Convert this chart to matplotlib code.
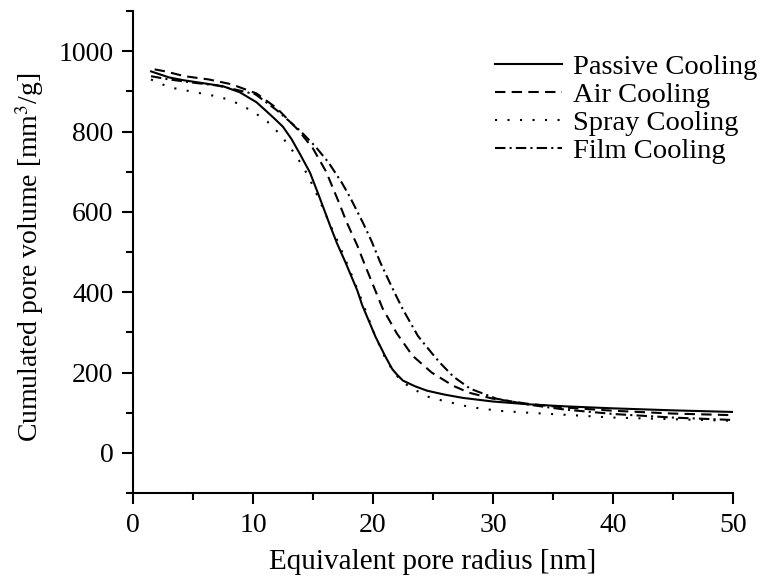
import matplotlib
matplotlib.use('Agg')
import matplotlib.pyplot as plt
import numpy as np

plt.rcParams['font.family'] = ['Liberation Serif', 'DejaVu Serif']
plt.rcParams['mathtext.fontset'] = 'stix'

# Passive cooling (solid)
passive_x = [1.5, 3, 4.2, 6, 7.5, 8.9, 10.3, 11.7, 12.5, 13.2, 13.9, 14.75, 15.5, 16.4, 17, 17.7,
             18.7, 19.1, 19.75, 20.2, 21, 21.6, 22, 22.5, 23.5, 24.5, 26, 27.5, 30, 33, 36, 40, 45, 50]
passive_y = [950, 935, 928, 920, 913, 898, 873, 835, 812, 782, 745, 698, 640, 568, 522, 475,
             404, 368, 322, 290, 242, 209, 195, 180, 166, 155, 145, 137, 128, 121, 116, 111, 106, 102]

# Air cooling (dashed)
air_x = [1.8, 2.7, 4.3, 6.3, 8.2, 10.3, 12, 13.8, 15, 16.1, 17.1, 17.8, 18.7, 19.3, 20.2,
         20.8, 22, 23.3, 24.9, 26.7, 28, 30, 33, 36, 40, 45, 50]
air_y = [955, 950, 938, 930, 918, 895, 858, 803, 758, 700, 628, 575, 516, 470, 404,
         360, 297, 242, 200, 167, 150, 135, 122, 113, 105, 98, 94]

# Spray cooling (dotted)
spray_x = [1.5, 2, 3.1, 4.5, 6.6, 7.7, 8.75, 10, 11.2, 12.2, 13.1, 13.8, 14.6, 15.5, 16.4,
           17.1, 18, 19, 19.75, 20.2, 21, 21.8, 22.5, 23.3, 24.6, 25.7, 27, 28.1, 29.2, 30.4,
           33, 36, 40, 45, 50]
spray_y = [930, 923, 910, 902, 890, 882, 870, 850, 825, 795, 761, 730, 690, 632, 570,
           524, 460, 385, 325, 290, 238, 198, 176, 160, 140, 131, 122, 114, 110, 105,
           100, 95, 88, 84, 80]

# Film cooling (dash-dot)
film_x = [1.5, 3, 5, 7, 8.5, 10.2, 12, 13.9, 15.2, 16.3, 17.4, 18.1, 19.2, 19.9, 20.6,
          21.4, 22, 22.5, 23.75, 25, 25.6, 26.7, 28.1, 30.3, 33, 36, 40, 45, 50]
film_y = [938, 930, 922, 915, 905, 893, 853, 803, 763, 723, 673, 636, 571, 526, 475,
          424, 387, 357, 291, 245, 224, 190, 160, 135, 120, 108, 97, 88, 82]

fig = plt.figure(figsize=(7.65, 5.87), dpi=100)
ax = fig.add_axes([0.1739, 0.160, 0.958 - 0.1739, 0.981 - 0.160])

lw = 1.5
ax.plot(passive_x, passive_y, color='black', lw=lw, linestyle='-', label='Passive Cooling')
ax.plot(air_x, air_y, color='black', lw=lw, linestyle=(0, (5, 3)), label='Air Cooling')
ax.plot(spray_x, spray_y, color='black', lw=lw, linestyle=(0, (1, 5)), label='Spray Cooling')
ax.plot(film_x, film_y, color='black', lw=lw, linestyle=(0, (5, 2, 1, 2)), label='Film Cooling')

ax.set_xlim(0, 50)
ax.set_ylim(-100, 1100)
ax.set_xticks([0, 10, 20, 30, 40, 50])
ax.set_xticks([5, 15, 25, 35, 45], minor=True)
ax.set_yticks([0, 200, 400, 600, 800, 1000])
ax.set_yticks([-100, 100, 300, 500, 700, 900, 1100], minor=True)

for s in ['top', 'right']:
    ax.spines[s].set_visible(False)
for s in ['left', 'bottom']:
    ax.spines[s].set_linewidth(1.5)

ax.tick_params(which='major', direction='out', length=8, width=1.5, labelsize=20, pad=6)
ax.tick_params(which='minor', direction='out', length=5, width=1.5)

ax.set_xlabel('Equivalent pore radius [nm]', fontsize=21, labelpad=8)
ax.set_ylabel('Cumulated pore volume [mm$^3$/g]', fontsize=20)
ax.yaxis.set_label_coords(-0.145, 0.49)

leg = ax.legend(loc='upper right', bbox_to_anchor=(1.06, 0.935), frameon=False, fontsize=20.5,
                handlelength=2.35, handletextpad=0.4, labelspacing=0.08, borderaxespad=0)

fig.savefig('out.png', dpi=100)
